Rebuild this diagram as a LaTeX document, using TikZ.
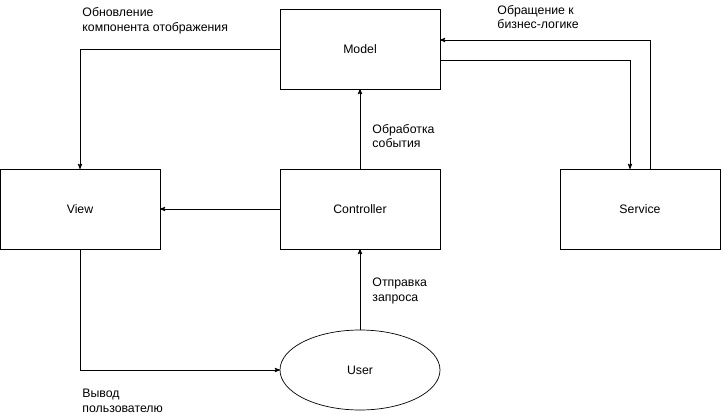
\documentclass[tikz,border=0pt]{standalone}
\usepackage{fontspec}
\setmainfont{Liberation Sans}
\usetikzlibrary{positioning,calc,arrows,shapes.geometric}

\begin{document}
\begin{tikzpicture}[x=1pt,y=1pt,>=stealth',line width=0.9pt,
  box node/.style={rectangle,draw,minimum width=160pt,minimum height=80pt,inner sep=0pt,outer sep=0pt,font=\fontsize{12.3}{14}\selectfont},
  user node/.style={ellipse,draw,line width=0.7pt,minimum width=160pt,minimum height=80pt,inner sep=0pt,outer sep=0pt,font=\fontsize{12.3}{14}\selectfont},
  note/.style={anchor=west,align=left,inner sep=0pt,font=\fontsize{12.3}{14.5}\selectfont}]
\useasboundingbox (0,0) rectangle (721,-415);
% nodes
  \node[box node] (view) at (80,-209) {View};
  \node[box node] (controller) [right = 120pt of view] {Controller};
  \node[box node] (model) [above = 80pt of controller] {Model};
  \node[box node] (service) [right = 120pt of controller] {Service};
  \node[user node] (user) [below = 81pt of controller] {User};
% labels
  \node[note] (update) at (82,-21) {Обновление\\компонента отображения};
  \node[note] (business) at (497,-17) {Обращение к\\бизнес-логике};
  \node[note] (handle) at (372,-136) {Обработка\\события};
  \node[note] (request) at (372,-291) {Отправка\\запроса};
  \node[note] (output) at (82,-401) {Вывод\\пользователю};
  %edges
  \draw[->] (model.west) -| (view.north);
  \draw[->] (controller) -- (view);
  \draw[->] (controller) -- (model);
  \draw[->] ([yshift=-11pt]model.east) -| ([xshift=-10pt]service.north);
  \draw[->] ([xshift=10pt]service.north) |- ([yshift=9pt]model.east);
  \draw[->] (view.south) |- (user.west);
  \draw[->] (user) -- (controller);
\end{tikzpicture}
\end{document}
